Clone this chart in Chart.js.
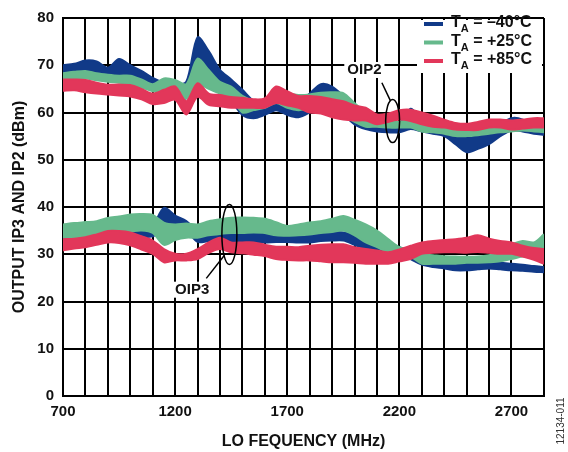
<!DOCTYPE html>
<html>
<head>
<meta charset="utf-8">
<script src="https://cdn.jsdelivr.net/npm/chart.js@4"></script>
<style>
  body { margin: 0; background: #fff; }
  #wrap { width: 568px; height: 452px; }
</style>
</head>
<body>
<div id="wrap"><canvas id="myChart" width="568" height="452"></canvas></div>
<script>
// LO frequency (MHz)
const freq = [700, 750, 800, 850, 900, 950, 1000, 1050, 1100, 1150, 1200, 1250, 1300, 1350, 1400, 1450,
  1500, 1550, 1600, 1650, 1700, 1750, 1800, 1850, 1900, 1950, 2000, 2050, 2100, 2150, 2200, 2250,
  2300, 2350, 2400, 2450, 2500, 2550, 2600, 2650, 2700, 2750, 2800, 2845];

// each temperature is a spread of traces: upper / lower edge of the band (dBm)
const oip2Cold_hi = [70.0, 70.3, 71.0, 70.8, 69.5, 71.3, 70.0, 68.8, 67.3, 66.3, 65.8, 66.5, 75.9, 73.0, 69.0, 67.0,
  64.8, 62.5, 62.0, 62.4, 62.0, 62.0, 64.0, 66.0, 65.5, 63.5, 61.0, 59.5, 58.0, 57.8, 57.6, 60.8,
  58.5, 57.5, 56.5, 55.5, 55.0, 55.3, 55.8, 57.5, 58.8, 58.5, 57.0, 56.5];
const oip2Cold_lo = [68.0, 68.3, 68.5, 68.3, 67.8, 67.5, 67.0, 66.5, 65.8, 64.5, 63.5, 63.0, 68.0, 66.5, 64.5, 62.5,
  59.5, 58.8, 59.5, 60.5, 59.5, 59.0, 60.0, 61.5, 61.0, 59.5, 57.5, 56.5, 56.0, 55.8, 55.8, 56.5,
  56.0, 55.5, 55.0, 53.3, 51.6, 52.3, 53.3, 55.0, 56.2, 56.0, 55.5, 55.3];
const oip2Room_hi = [68.3, 68.6, 68.8, 68.3, 68.0, 67.8, 67.8, 67.0, 66.0, 67.2, 66.9, 66.0, 71.4, 69.0, 66.5, 65.5,
  63.5, 62.5, 62.5, 63.7, 64.0, 63.7, 63.8, 64.2, 64.3, 64.1, 62.0, 60.0, 58.5, 58.2, 58.0, 58.5,
  57.5, 57.0, 56.8, 56.4, 56.3, 56.4, 56.8, 57.0, 57.2, 57.3, 57.2, 57.0];
const oip2Room_lo = [66.8, 67.0, 67.2, 66.8, 66.5, 66.3, 66.0, 65.3, 64.5, 64.5, 64.0, 63.0, 66.0, 65.0, 64.0, 63.0,
  60.0, 60.5, 61.0, 62.0, 61.0, 60.5, 60.8, 61.0, 60.5, 59.5, 58.0, 57.0, 57.0, 56.8, 56.8, 56.8,
  56.0, 55.8, 55.5, 55.0, 55.0, 55.2, 55.5, 55.8, 56.0, 56.2, 56.0, 55.8];
const oip2Hot_hi = [67.0, 67.0, 66.9, 66.3, 65.9, 65.9, 65.8, 65.0, 64.0, 64.8, 65.5, 62.4, 66.2, 64.0, 63.7, 63.3,
  63.1, 62.8, 63.0, 65.5, 64.5, 63.5, 63.5, 63.3, 62.8, 62.4, 61.5, 61.0, 59.6, 59.8, 60.5, 60.6,
  60.0, 59.3, 58.5, 57.8, 57.6, 58.0, 58.5, 58.5, 58.3, 58.5, 58.8, 58.8];
const oip2Hot_lo = [64.6, 64.7, 64.3, 64.0, 63.8, 63.6, 63.4, 62.8, 61.8, 62.0, 62.7, 59.6, 63.3, 61.6, 61.3, 61.0,
  61.0, 61.0, 61.0, 62.0, 61.5, 61.0, 60.0, 59.8, 59.0, 58.5, 58.3, 58.3, 57.5, 58.0, 58.5, 58.2,
  57.5, 57.0, 56.8, 56.4, 56.3, 56.3, 56.8, 56.8, 56.4, 56.6, 56.8, 56.8];

const oip3Cold_hi = [34.0, 34.0, 34.2, 34.5, 34.5, 34.6, 34.8, 35.0, 36.0, 39.8, 38.2, 37.0, 35.0, 34.5, 34.3, 34.2,
  34.5, 34.6, 35.0, 35.0, 34.5, 34.6, 34.6, 34.8, 34.8, 34.6, 34.0, 33.5, 32.8, 32.5, 31.5, 30.5,
  29.2, 28.8, 28.5, 28.0, 28.0, 28.2, 28.3, 28.2, 28.0, 27.8, 27.5, 27.3];
const oip3Cold_lo = [32.8, 33.0, 33.2, 33.3, 33.5, 33.6, 33.5, 33.6, 33.8, 35.0, 35.5, 35.0, 32.6, 32.8, 32.8, 32.7,
  32.6, 32.6, 32.5, 32.6, 32.6, 32.5, 32.5, 32.8, 32.9, 32.9, 32.0, 31.0, 30.5, 30.5, 30.0, 29.0,
  27.8, 27.3, 27.0, 26.6, 26.6, 26.8, 27.0, 26.8, 26.6, 26.5, 26.3, 26.2];
const oip3Room_hi = [36.3, 36.6, 36.8, 37.0, 37.7, 38.0, 38.4, 38.5, 38.3, 36.7, 36.3, 36.5, 36.3, 37.0, 37.4, 37.7,
  37.8, 37.7, 37.5, 36.8, 36.0, 36.3, 36.7, 37.0, 37.5, 38.1, 37.3, 36.3, 35.0, 33.2, 31.5, 31.0,
  30.0, 29.8, 29.6, 29.5, 29.5, 29.5, 29.8, 30.5, 32.0, 32.8, 32.5, 34.2];
const oip3Room_lo = [33.5, 33.6, 33.8, 34.0, 34.5, 34.7, 34.8, 35.0, 34.5, 32.0, 33.0, 33.5, 33.5, 34.0, 34.3, 34.5,
  34.5, 34.6, 34.5, 34.0, 33.9, 34.0, 34.2, 34.5, 34.7, 35.0, 34.0, 32.5, 31.5, 30.4, 30.0, 29.5,
  28.0, 28.0, 28.0, 28.0, 28.2, 28.2, 28.3, 28.5, 29.0, 29.5, 29.5, 30.0];
const oip3Hot_hi = [33.2, 33.3, 33.6, 34.2, 34.9, 34.9, 34.6, 33.8, 32.9, 31.1, 30.1, 30.1, 31.1, 32.5, 33.5, 32.5,
  32.5, 32.5, 32.0, 31.6, 31.6, 31.5, 31.8, 32.0, 32.1, 32.1, 31.5, 31.1, 30.8, 30.4, 31.0, 31.8,
  32.5, 32.8, 33.0, 33.2, 33.5, 34.0, 33.3, 32.8, 32.5, 31.8, 31.3, 31.1];
const oip3Hot_lo = [30.8, 31.2, 31.5, 32.0, 32.5, 32.4, 31.9, 31.0, 30.1, 28.3, 28.7, 28.7, 29.0, 30.3, 31.1, 30.4,
  30.2, 29.9, 29.6, 29.0, 28.8, 28.7, 28.7, 28.5, 28.3, 28.3, 28.2, 28.0, 28.0, 28.0, 28.5, 29.0,
  30.1, 30.3, 30.4, 30.4, 30.3, 30.5, 30.3, 30.1, 30.1, 29.5, 28.8, 28.0];

const tempLabels = ["\u201340\u00B0C", "+25\u00B0C", "+85\u00B0C"];
const colors = ["#113a88", "#66b98c", "#e2375a"];

const FONT = "'Liberation Sans', Arial, Helvetica, sans-serif";

function pts(ys) {
  return ys.map((y, i) => ({ x: freq[i], y: y }));
}

// build lower/upper pair for each band, upper filled down to lower
const bands = [
  [oip2Cold_lo, oip2Cold_hi, 0], [oip2Room_lo, oip2Room_hi, 1], [oip2Hot_lo, oip2Hot_hi, 2],
  [oip3Cold_lo, oip3Cold_hi, 0], [oip3Room_lo, oip3Room_hi, 1], [oip3Hot_lo, oip3Hot_hi, 2],
];
const datasets = [];
bands.forEach(([lo, hi, t]) => {
  const base = {
    borderColor: colors[t],
    backgroundColor: colors[t],
    borderWidth: 2,
    pointRadius: 0,
    tension: 0.3,
    order: 3 - t, // red on top, blue underneath
  };
  datasets.push(Object.assign({ data: pts(lo), fill: false }, base));
  datasets.push(Object.assign({ data: pts(hi), fill: "-1" }, base));
});

// annotation spots, in data units
const oip2Label = { x: 2044, y: 69.0 };
const oip2Ring = { x: 2170, y: 58.2 };
const oip2Lead = [{ x: 2122, y: 66.3 }, { x: 2161, y: 62.4 }];
const oip3Label = { x: 1276, y: 22.5 };
const oip3Ring = { x: 1442, y: 34.2 };
const oip3Lead = [{ x: 1339, y: 24.9 }, { x: 1420, y: 29.8 }];

const extras = {
  id: "extras",
  afterDraw(chart) {
    const ctx = chart.ctx;
    const xs = chart.scales.x, ys = chart.scales.y;
    const px = p => [xs.getPixelForValue(p.x), ys.getPixelForValue(p.y)];
    const area = chart.chartArea;
    ctx.save();

    // legend box covers the grid
    ctx.fillStyle = "#fff";
    ctx.fillRect(417, area.top + 2, area.right - 2 - 417, 73 - area.top - 2);
    const rows = [24, 42.5, 61];
    rows.forEach((ry, i) => {
      ctx.strokeStyle = colors[i];
      ctx.lineWidth = 4;
      ctx.beginPath();
      ctx.moveTo(424, ry);
      ctx.lineTo(443, ry);
      ctx.stroke();
      ctx.fillStyle = "#111";
      ctx.textBaseline = "middle";
      ctx.textAlign = "left";
      ctx.font = "bold 16px " + FONT;
      ctx.fillText("T", 451, ry - 1);
      let w = ctx.measureText("T").width;
      ctx.font = "bold 11px " + FONT;
      ctx.fillText("A", 451 + w, ry + 5);
      const w2 = ctx.measureText("A").width;
      ctx.font = "bold 16px " + FONT;
      ctx.fillText(" = " + tempLabels[i], 451 + w + w2, ry - 1);
    });

    // OIP labels with white backing
    ctx.font = "bold 15px " + FONT;
    ctx.textAlign = "center";
    ctx.textBaseline = "middle";
    [[oip2Label, "OIP2"], [oip3Label, "OIP3"]].forEach(([p, t]) => {
      const [x, y] = px(p);
      const w = ctx.measureText(t).width;
      ctx.fillStyle = "#fff";
      ctx.fillRect(x - w / 2 - 3, y - 8, w + 6, 16);
      ctx.fillStyle = "#111";
      ctx.fillText(t, x, y);
    });

    ctx.strokeStyle = "#000";
    ctx.lineWidth = 1.5;
    [[oip2Ring, 7, 21.5], [oip3Ring, 7.5, 30]].forEach(([p, rx, ry]) => {
      const [x, y] = px(p);
      ctx.beginPath();
      ctx.ellipse(x, y, rx, ry, 0, 0, Math.PI * 2);
      ctx.stroke();
    });
    [oip2Lead, oip3Lead].forEach(seg => {
      const a = px(seg[0]), b = px(seg[1]);
      ctx.beginPath();
      ctx.moveTo(a[0], a[1]);
      ctx.lineTo(b[0], b[1]);
      ctx.stroke();
    });

    // figure number
    ctx.translate(561, 421);
    ctx.rotate(-Math.PI / 2);
    ctx.font = "10px " + FONT;
    ctx.fillStyle = "#333";
    ctx.fillText("12134-011", 0, 0);
    ctx.restore();
  },
};

const config = {
  type: "line",
  data: { datasets: datasets },
  options: {
    responsive: false,
    animation: false,
    devicePixelRatio: 1,
    layout: { padding: { top: 12, right: 24, left: 0, bottom: 0 } },
    plugins: { legend: { display: false }, tooltip: { enabled: false } },
    scales: {
      x: {
        type: "linear",
        min: 700,
        max: 2845,
        afterFit: s => { s.height = 56; },
        grid: { color: "#000", lineWidth: 2, drawTicks: false },
        border: { color: "#000", width: 2 },
        ticks: {
          stepSize: 100,
          autoSkip: false,
          maxRotation: 0,
          padding: 7,
          color: "#111",
          font: { family: FONT, size: 15, weight: "bold" },
          callback: v => ((v - 700) % 500 === 0 && v <= 2700 ? String(v) : ""),
        },
        title: {
          display: true,
          text: "LO FEQUENCY (MHz)",
          color: "#111",
          font: { family: FONT, size: 16, weight: "bold" },
          padding: { top: 0, bottom: 1 },
        },
      },
      y: {
        min: 0,
        max: 80,
        afterFit: s => { s.width = 63; },
        grid: { color: "#000", lineWidth: 2, drawTicks: false },
        border: { color: "#000", width: 2 },
        ticks: {
          stepSize: 10,
          padding: 9,
          color: "#111",
          font: { family: FONT, size: 15, weight: "bold" },
        },
        title: {
          display: true,
          text: "OUTPUT IP3 AND IP2 (dBm)",
          color: "#111",
          font: { family: FONT, size: 16, weight: "bold" },
          padding: { top: 10, bottom: 0 },
        },
      },
    },
  },
  plugins: [extras],
};

const myChart = new Chart(document.getElementById("myChart"), config);
</script>
</body>
</html>
